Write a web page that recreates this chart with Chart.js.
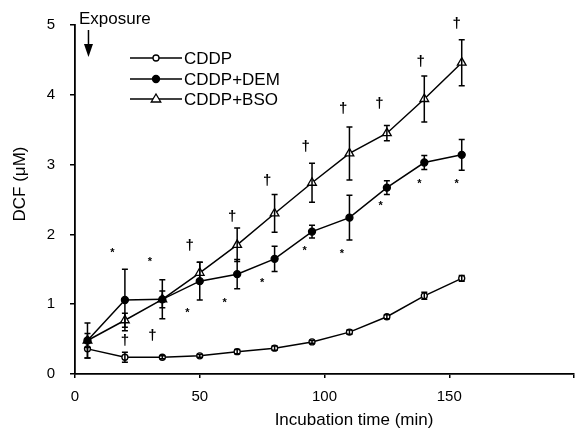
<!DOCTYPE html>
<html>
<head>
<meta charset="utf-8">
<script src="https://cdn.jsdelivr.net/npm/chart.js@4"></script>
<style>
  body { margin: 0; background: #fff; }
  canvas { display: block; }
</style>
</head>
<body>
<canvas id="dcfChart" width="584" height="432"></canvas>
<script>
// incubation times (min)
const times = [5, 20, 35, 50, 65, 80, 95, 110, 125, 140, 155];

// DCF (uM), mean and error
const cddp = [0.36, 0.24, 0.24, 0.26, 0.32, 0.37, 0.46, 0.6, 0.82, 1.12, 1.37];
const cddpErr = [0.13, 0.07, 0.02, 0.02, 0.03, 0.03, 0.02, 0.03, 0.03, 0.05, 0.04];
const dem = [0.48, 1.06, 1.07, 1.33, 1.43, 1.65, 2.04, 2.24, 2.67, 3.03, 3.14];
const demErr = [0.25, 0.44, 0.12, 0.27, 0.21, 0.18, 0.09, 0.32, 0.1, 0.1, 0.22];
const bso = [0.48, 0.77, 1.07, 1.45, 1.85, 2.3, 2.74, 3.16, 3.45, 3.94, 4.46];
const bsoErr = [0.1, 0.1, 0.28, 0.15, 0.24, 0.27, 0.28, 0.38, 0.11, 0.33, 0.33];

// significance marks
const daggerX = [20, 31, 46, 63, 77, 92.5, 107.5, 122, 138.5, 153];
const daggerY = [0.48, 0.54, 1.83, 2.25, 2.76, 3.26, 3.8, 3.87, 4.47, 5.02];
const starX = [15, 30, 45, 60, 75, 92, 107, 122.5, 138, 153];
const starY = [1.78, 1.65, 0.92, 1.06, 1.35, 1.8, 1.76, 2.45, 2.76, 2.76];

const exposureTime = 5;
const xTitle = "Incubation time (min)";
const yTitle = "DCF (μM)";
const FONT = '"Liberation Sans", Arial, Helvetica, sans-serif';

Chart.defaults.font.family = FONT;
Chart.defaults.font.size = 15;
Chart.defaults.color = "#000";

const toPoints = (ys) => ys.map((y, i) => ({ x: times[i], y: y }));

const series = [
  { label: "CDDP", data: cddp, err: cddpErr, style: "circle", fill: "#fff", r: 3 },
  { label: "CDDP+DEM", data: dem, err: demErr, style: "circle", fill: "#000", r: 3.5 },
  { label: "CDDP+BSO", data: bso, err: bsoErr, style: "triangle", fill: "#fff", r: 5 },
];

function drawMarker(ctx, s, x, y) {
  ctx.save();
  ctx.lineWidth = 1.3;
  ctx.strokeStyle = "#000";
  ctx.fillStyle = s.fill;
  ctx.beginPath();
  if (s.style === "triangle") {
    ctx.moveTo(x, y - s.r);
    ctx.lineTo(x + s.r * 0.95, y + s.r * 0.6);
    ctx.lineTo(x - s.r * 0.95, y + s.r * 0.6);
    ctx.closePath();
  } else {
    ctx.arc(x, y, s.r, 0, Math.PI * 2);
  }
  ctx.fill();
  ctx.stroke();
  ctx.restore();
}

const errorBars = {
  id: "errorBars",
  afterDatasetsDraw(chart) {
    const { ctx, scales } = chart;
    ctx.save();
    ctx.strokeStyle = "#000";
    ctx.lineWidth = 1.5;
    series.forEach((s) => {
      s.data.forEach((v, i) => {
        const px = scales.x.getPixelForValue(times[i]);
        const top = scales.y.getPixelForValue(v + s.err[i]);
        const bot = scales.y.getPixelForValue(v - s.err[i]);
        ctx.beginPath();
        ctx.moveTo(px, top);
        ctx.lineTo(px, bot);
        ctx.moveTo(px - 3, top);
        ctx.lineTo(px + 3, top);
        ctx.moveTo(px - 3, bot);
        ctx.lineTo(px + 3, bot);
        ctx.stroke();
      });
    });
    ctx.restore();
  },
};

const annotations = {
  id: "annotations",
  afterDraw(chart) {
    const { ctx, scales } = chart;
    ctx.save();
    ctx.fillStyle = "#000";
    ctx.textAlign = "center";

    // daggers
    ctx.font = "bold 15px " + FONT;
    ctx.textBaseline = "middle";
    daggerX.forEach((x, i) => {
      ctx.fillText("†", scales.x.getPixelForValue(x), scales.y.getPixelForValue(daggerY[i]));
    });

    // asterisks
    ctx.font = "bold 11px " + FONT;
    ctx.textBaseline = "alphabetic";
    starX.forEach((x, i) => {
      ctx.fillText("*", scales.x.getPixelForValue(x), scales.y.getPixelForValue(starY[i]) + 6);
    });

    // axis titles
    ctx.font = "17px " + FONT;
    ctx.textBaseline = "middle";
    ctx.fillText(xTitle, 354, 420);
    ctx.save();
    ctx.translate(20, 184);
    ctx.rotate(-Math.PI / 2);
    ctx.fillText(yTitle, 0, 0);
    ctx.restore();

    // exposure arrow
    const ax = scales.x.getPixelForValue(exposureTime) + 1;
    ctx.textAlign = "left";
    ctx.fillText("Exposure", 79, 19);
    ctx.strokeStyle = "#000";
    ctx.lineWidth = 1.5;
    ctx.beginPath();
    ctx.moveTo(ax, 30);
    ctx.lineTo(ax, 48);
    ctx.stroke();
    ctx.beginPath();
    ctx.moveTo(ax - 4.5, 44);
    ctx.lineTo(ax + 4.5, 44);
    ctx.lineTo(ax, 57);
    ctx.closePath();
    ctx.fill();

    // legend
    const rows = [58, 79, 99];
    series.forEach((s, i) => {
      const y = rows[i];
      ctx.lineWidth = 1.5;
      ctx.beginPath();
      ctx.moveTo(130, y);
      ctx.lineTo(182, y);
      ctx.stroke();
      drawMarker(ctx, s, 156, y);
      ctx.fillStyle = "#000";
      ctx.fillText(s.label, 184, y + 1);
    });
    ctx.restore();
  },
};

new Chart(document.getElementById("dcfChart"), {
  type: "line",
  data: {
    datasets: series.map((s) => ({
      label: s.label,
      data: toPoints(s.data),
      borderColor: "#000",
      borderWidth: 1.5,
      tension: 0,
      pointStyle: s.style,
      pointRadius: s.r,
      pointBorderWidth: 1.3,
      pointBorderColor: "#000",
      pointBackgroundColor: s.fill,
    })),
  },
  options: {
    responsive: false,
    animation: false,
    layout: { padding: { top: 25, right: 5, left: 0, bottom: 0 } },
    plugins: { legend: { display: false }, tooltip: { enabled: false } },
    scales: {
      x: {
        type: "linear",
        min: 0,
        max: 200,
        afterFit: (scale) => { scale.height = 58; },
        ticks: {
          stepSize: 50,
          padding: 10,
          maxRotation: 0,
          callback: (v) => (v === 200 ? "" : v),
        },
        grid: { display: true, drawOnChartArea: false, drawTicks: true, tickLength: 4, color: "#000", lineWidth: 1.5 },
        border: { color: "#000", width: 1.8 },
      },
      y: {
        min: 0,
        max: 5,
        afterFit: (scale) => { scale.width = 75; },
        ticks: { stepSize: 1, padding: 15 },
        grid: { display: true, drawOnChartArea: false, drawTicks: true, tickLength: 5, color: "#000", lineWidth: 1.5 },
        border: { color: "#000", width: 1.8 },
      },
    },
  },
  plugins: [errorBars, annotations],
});
</script>
</body>
</html>
